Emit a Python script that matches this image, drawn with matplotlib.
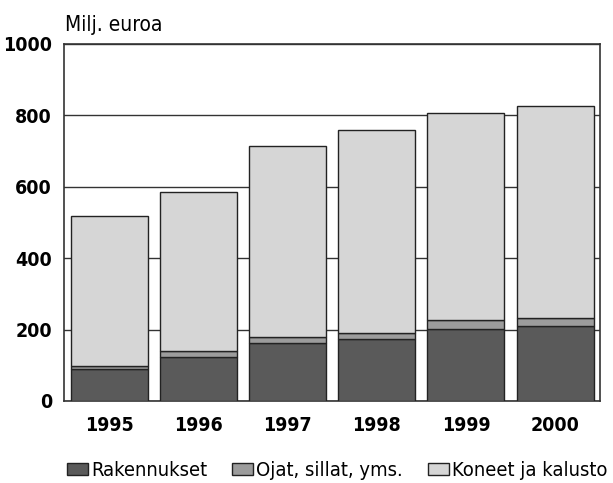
import matplotlib.pyplot as plt
import numpy as np

years = ["1995", "1996", "1997", "1998", "1999", "2000"]
rakennukset = [88, 123, 163, 174, 202, 210]
ojat = [10, 17, 16, 16, 25, 22]
koneet = [420, 445, 535, 569, 580, 594]

labels = ["Rakennukset", "Ojat, sillat, yms.", "Koneet ja kalusto"]
colors = ["#5a5a5a", "#9c9c9c", "#d6d6d6"]

plt.rcParams["font.family"] = ["DejaVu Sans"]
plt.rcParams["font.stretch"] = "condensed"
plt.rcParams["font.weight"] = "bold"

fig = plt.figure(figsize=(6.13, 4.83), dpi=100)
ax = fig.add_axes([0.104, 0.170, 0.875, 0.739])

x = np.arange(len(years))
bottom = np.zeros(len(years))
for vals, lab, col in zip([rakennukset, ojat, koneet], labels, colors):
    ax.bar(x, vals, width=0.865, bottom=bottom, color=col, edgecolor="#222222",
           linewidth=1.0, label=lab, zorder=3)
    bottom += np.array(vals)

ax.set_ylim(0, 1000)
ax.set_xlim(-0.51, 5.505)
ax.set_yticks([0, 200, 400, 600, 800, 1000])
ax.set_xticks(x)
ax.set_xticklabels(years)
ax.tick_params(length=0, labelsize=14)
ax.tick_params(axis="x", pad=11)
ax.tick_params(axis="y", pad=8.5)
ax.yaxis.grid(True, color="#333333", linewidth=1.0, zorder=0)
for s in ax.spines.values():
    s.set_color("#333333")
    s.set_linewidth(1.2)

fig.text(0.106, 0.935, "Milj. euroa", fontsize=15, fontweight="normal")

ax.legend(loc="center", bbox_to_anchor=(0.51, -0.196), ncol=3, frameon=False,
          handlelength=1.05, handleheight=0.55, handletextpad=0.15,
          columnspacing=1.25, prop={"weight": "normal", "size": 14.5, "stretch": "condensed"})

plt.savefig("out.png", dpi=100)
